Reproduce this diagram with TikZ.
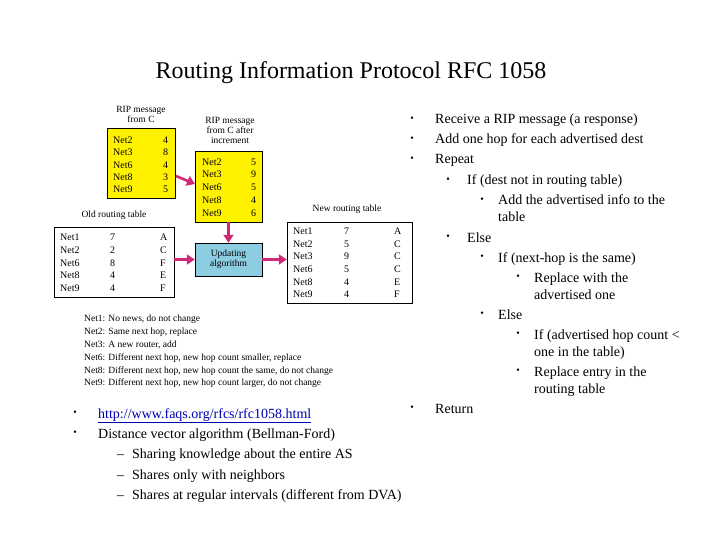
\documentclass[tikz,border=0pt]{standalone}
\usepackage{fontspec}
\setmainfont{Liberation Serif}
\usetikzlibrary{arrows.meta}
\definecolor{ylw}{RGB}{255,242,0}
\definecolor{lblue}{RGB}{140,205,225}
\definecolor{mag}{RGB}{210,40,120}
\begin{document}
\begin{tikzpicture}[x=1pt,y=-1pt,
 tx/.style={anchor=base west,inner sep=0,font=\fontsize{14}{15}\selectfont},
 sm/.style={inner sep=0,font=\fontsize{9.5}{10}\selectfont},
 cell/.style={anchor=base west,inner sep=0,font=\fontsize{10}{11}\selectfont},
 bl/.style={inner sep=0,font=\fontsize{10}{10}\selectfont},
 arr/.style={draw=mag,line width=2.6pt,-{Triangle[length=8pt,width=10pt]}}]
\useasboundingbox (0,0) rectangle (720,540);
\node[inner sep=0,font=\fontsize{24}{26}\selectfont] (title) at (351,73) {Routing Information Protocol RFC 1058};
% boxes
\node[draw,fill=ylw,minimum width=68,minimum height=70,inner sep=0] (rip) at (141,163) {};
\node[sm,align=center] (ript) at (141,114) {RIP message\\from C};
\node[draw,fill=ylw,minimum width=67,minimum height=71,inner sep=0] (inc) at (228.5,186.5) {};
\node[sm,align=center] (inct) at (230,130) {RIP message\\from C after\\increment};
\node[draw,fill=white,minimum width=120,minimum height=70,inner sep=0] (old) at (114,262) {};
\node[sm] (oldt) at (114,215) {Old routing table};
\node[draw,fill=lblue,minimum width=67,minimum height=33,inner sep=0,sm,align=center] (upd) at (228.5,259.5) {Updating\\algorithm};
\node[draw,fill=white,minimum width=125,minimum height=81,inner sep=0] (new) at (349.5,262.5) {};
\node[sm] (newt) at (347,209) {New routing table};
% cells
\foreach \n/\v [count=\i] in {Net2/4,Net3/8,Net6/4,Net8/3,Net9/5}{
 \node[cell] (ra\i) at (113,131.5+12.2*\i) {\n}; \node[cell] (rb\i) at (163,131.5+12.2*\i) {\v};}
\foreach \n/\v [count=\i] in {Net2/5,Net3/9,Net6/5,Net8/4,Net9/6}{
 \node[cell] (ia\i) at (202,152.5+12.7*\i) {\n}; \node[cell] (ib\i) at (251,152.5+12.7*\i) {\v};}
\foreach \n/\v/\h [count=\i] in {Net1/7/A,Net2/2/C,Net6/8/F,Net8/4/E,Net9/4/F}{
 \node[cell] (oa\i) at (60,228+12.7*\i) {\n}; \node[cell] (ob\i) at (110,228+12.7*\i) {\v}; \node[cell] (oc\i) at (160,228+12.7*\i) {\h};}
\foreach \n/\v/\h [count=\i] in {Net1/7/A,Net2/5/C,Net3/9/C,Net6/5/C,Net8/4/E,Net9/4/F}{
 \node[cell] (na\i) at (293,222+12.6*\i) {\n}; \node[cell] (nb\i) at (344,222+12.6*\i) {\v}; \node[cell] (nc\i) at (394,222+12.6*\i) {\h};}
% arrows
\coordinate (a1) at (176,176); \coordinate (a2) at (195,184);
\draw[arr] (a1) -- (a2);
\draw[arr] (inc.south) -- (upd.north);
\draw[arr] (old.east |- upd.west) -- (upd.west);
\draw[arr] (upd.east) -- (new.west |- upd.east);
% notes
\foreach \t [count=\i] in {{Net1: No news, do not change},{Net2: Same next hop, replace},{Net3: A new router, add},{Net6: Different next hop, new hop count smaller, replace},{Net8: Different next hop, new hop count the same, do not change},{Net9: Different next hop, new hop count larger, do not change}}
 \node[sm,anchor=base west] (note\i) at (84,308.5+12.9*\i) {\t};
% right text
\foreach \y/\t [count=\i] in {120/Receive a RIP message (a response),140/Add one hop for each advertised dest,160/Repeat,409/Return}{
 \node[bl] (rb\i) at (412,\y-1) {\textbullet}; \node[tx] (rt\i) at (435,\y+4) {\t};}
\node[bl] (s1) at (448,180) {\textbullet}; \node[tx] (s1t) at (467,185) {If (dest not in routing table)};
\node[bl] (s2) at (482,200) {\textbullet}; \node[tx] (s2t) at (498,205) {Add the advertised info to the};
\node[tx] (s2u) at (498,222) {table};
\node[bl] (s3) at (448,237) {\textbullet}; \node[tx] (s3t) at (467,242) {Else};
\node[bl] (s4) at (482,257) {\textbullet}; \node[tx] (s4t) at (498,262) {If (next-hop is the same)};
\node[bl] (s5) at (518,277) {\textbullet}; \node[tx] (s5t) at (534,282) {Replace with the};
\node[tx] (s5u) at (534,299) {advertised one};
\node[bl] (s6) at (482,314) {\textbullet}; \node[tx] (s6t) at (498,319) {Else};
\node[bl] (s7) at (518,334) {\textbullet}; \node[tx] (s7t) at (534,339) {If (advertised hop count <};
\node[tx] (s7u) at (534,356) {one in the table)};
\node[bl] (s8) at (518,371) {\textbullet}; \node[tx] (s8t) at (534,376) {Replace entry in the};
\node[tx] (s8u) at (534,393) {routing table};
% bottom left
\node[bl] (b1) at (75,413) {\textbullet}; \node[tx,text=blue!70!black] (b1t) at (98,418) {\underline{http://www.faqs.org/rfcs/rfc1058.html}};
\node[bl] (b2) at (75,433) {\textbullet}; \node[tx] (b2t) at (98,438) {Distance vector algorithm (Bellman-Ford)};
\foreach \y/\t [count=\i] in {458/Sharing knowledge about the entire AS,479/Shares only with neighbors,499/Shares at regular intervals (different from DVA)}{
 \node[tx] (d\i) at (117,\y) {--}; \node[tx] (dt\i) at (132,\y) {\t};}
\end{tikzpicture}
\end{document}
